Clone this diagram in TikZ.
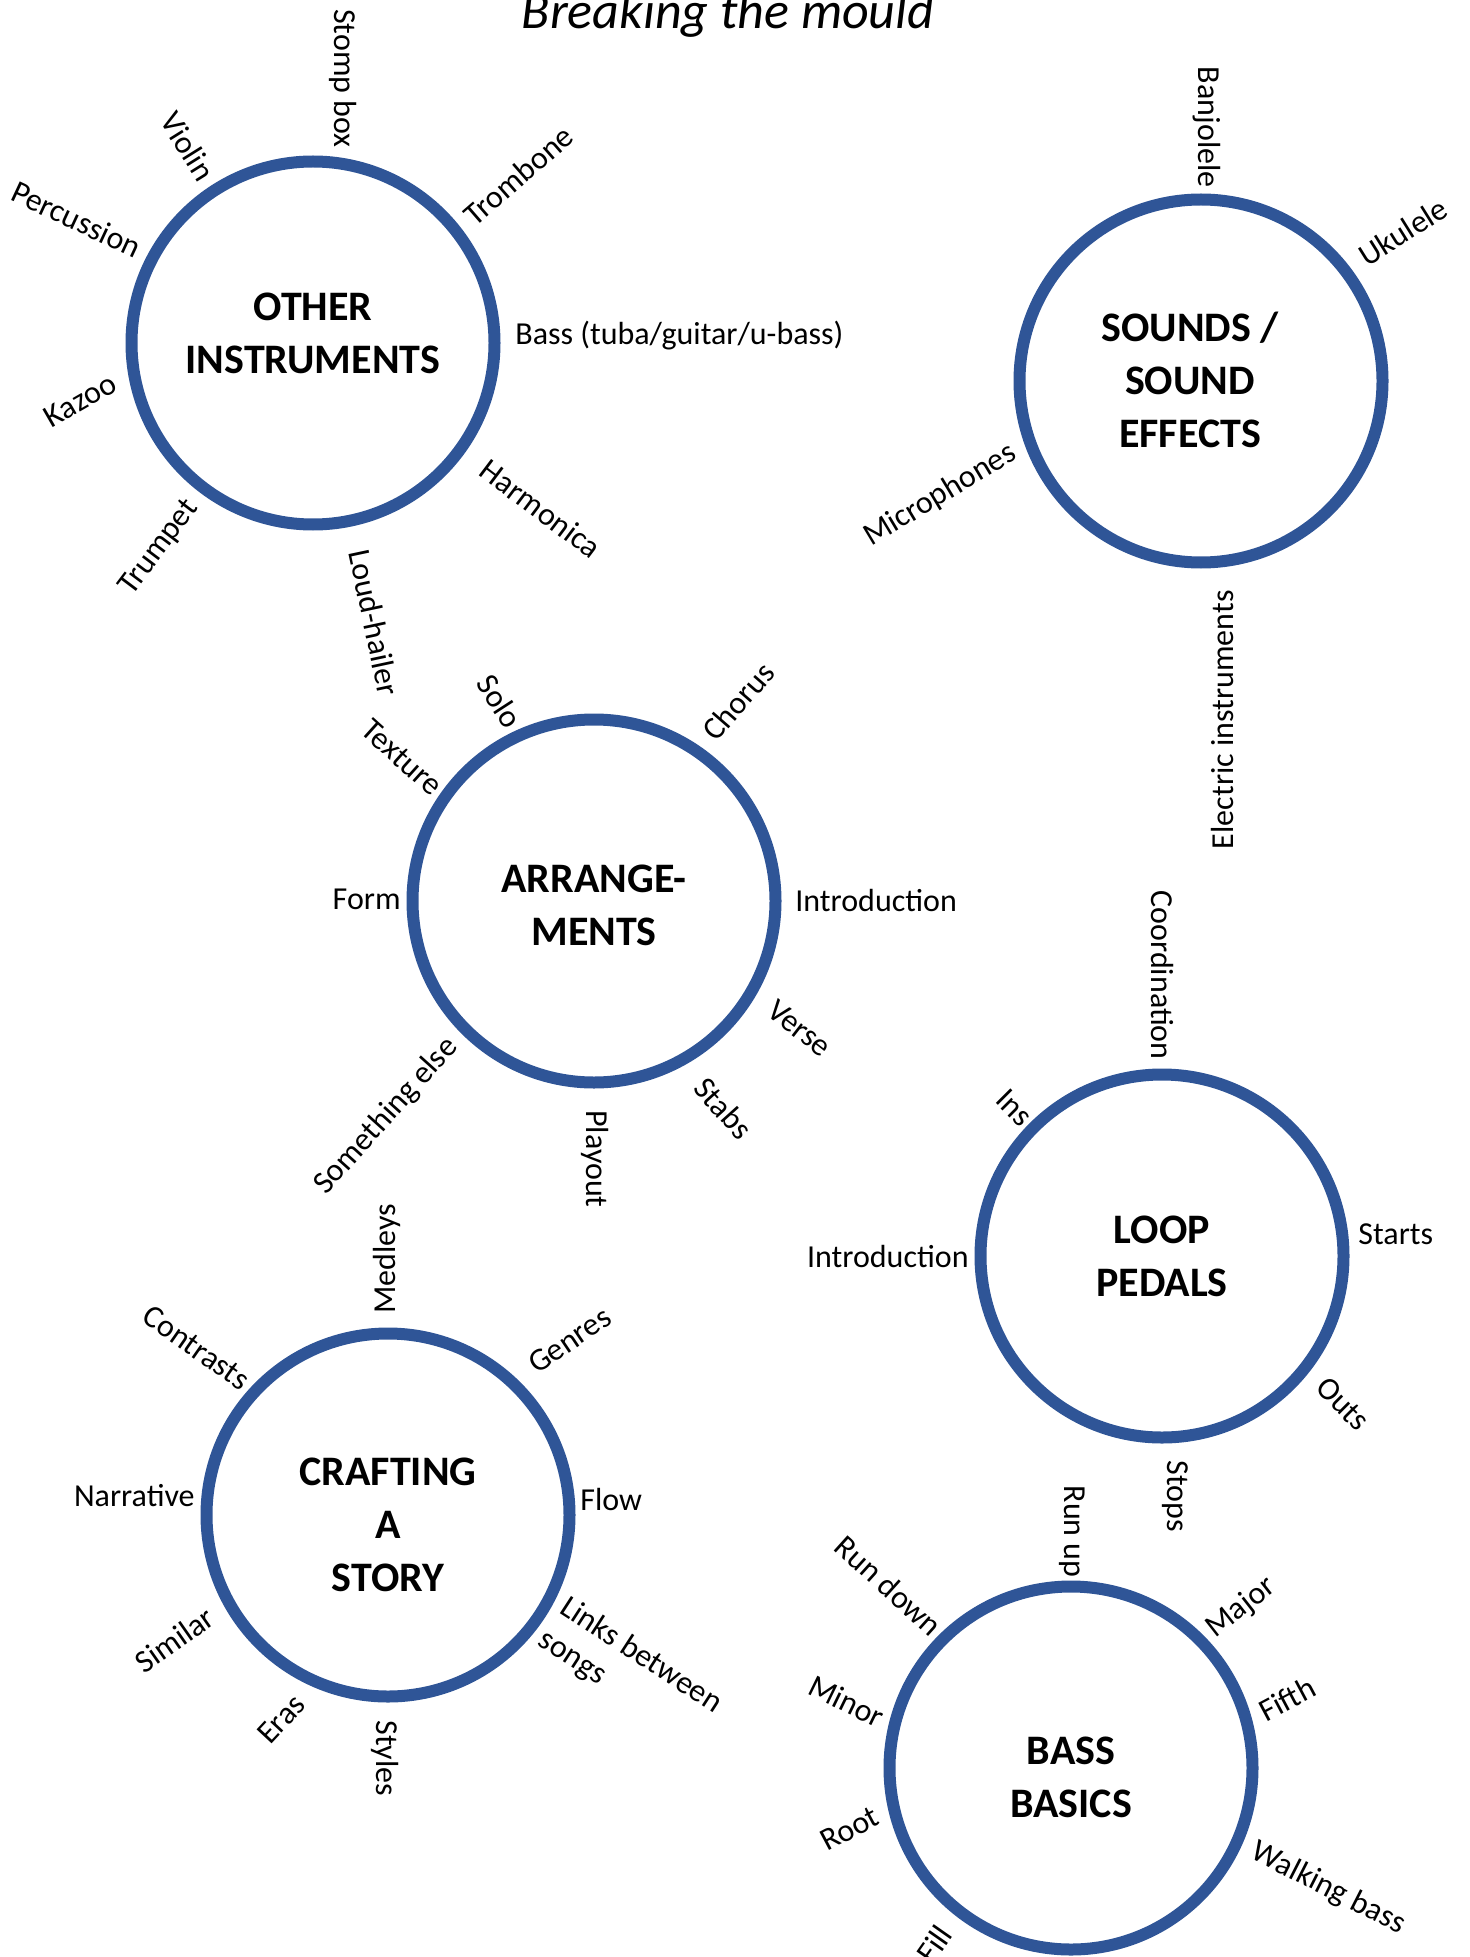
\documentclass[tikz,border=0pt]{standalone}
\usepackage{fontspec}
\setmainfont{Carlito}
\definecolor{ringblue}{RGB}{47,85,151}
\newcommand*{\ringsize}{181.5pt}
\newcommand*{\ringline}{6pt}
\newcommand*{\lblfont}{\fontsize{16}{19.5}\selectfont}
\newcommand*{\ringfont}{\fontsize{21}{26.5}\selectfont\bfseries}

\begin{document}
\begin{tikzpicture}[x=0.5pt, y=-0.5pt,
    ring/.style={circle, draw=ringblue, line width=\ringline, minimum size=\ringsize, inner sep=0pt},
    topic/.style={inner sep=0pt, align=center, font=\ringfont},
    lbl/.style={inner sep=0pt, font=\lblfont},
    lft/.style={lbl, anchor=east, rotate=#1},
    rgt/.style={lbl, anchor=west, rotate=#1}]
    \useasboundingbox (0,0) rectangle (1469,1957);
    \node [anchor=base, font=\fontsize{26}{30}\selectfont\itshape] (title) at (728,29) {Breaking the mould};
    % other instruments
    \node [ring] (other) at (313,343) {};
    \node [topic] (othertxt) at (313,333) {OTHER\\INSTRUMENTS};
    \node [lft=-90] (stomp)      at (343,148) {Stomp box};
    \node [lft=-58] (violin)     at (208,178) {Violin};
    \node [lft=-25] (percussion) at (140,249) {Percussion};
    \node [lft=30]  (kazoo)      at (114,381) {Kazoo};
    \node [lft=53]  (trumpet)    at (193,503) {Trumpet};
    \node [rgt=-78] (loudhailer) at (359,550) {Loud-hailer};
    \node [rgt=-37] (harmonica)  at (484,466) {Harmonica};
    \node [rgt=0]   (bass)       at (515,336) {Bass (tuba/guitar/u-bass)};
    \node [rgt=41]  (trombone)   at (468,219) {Trombone};
    % sounds
    \node [ring] (sounds) at (1201,381) {};
    \node [topic] (soundstxt) at (1190,380) {SOUNDS /\\SOUND\\EFFECTS};
    \node [lft=-90] (banjolele)   at (1207,188) {Banjolele};
    \node [rgt=32]  (ukulele)     at (1361,258) {Ukulele};
    \node [lft=31]  (microphones) at (1014,451) {Microphones};
    \node [lft=90]  (electric)    at (1222,590) {Electric instruments};
    % arrangements
    \node [ring] (arrange) at (594,901) {};
    \node [topic] (arrangetxt) at (594,905) {ARRANGE-\\MENTS};
    \node [lft=0]   (form)      at (401,899)  {Form};
    \node [lft=-42] (texture)   at (438,790)  {Texture};
    \node [lft=-57] (solo)      at (515,725)  {Solo};
    \node [rgt=49]  (chorus)    at (708,736)  {Chorus};
    \node [rgt=0]   (intro)     at (795,901)  {Introduction};
    \node [rgt=-38] (verse)     at (771,1006) {Verse};
    \node [rgt=-48] (stabs)     at (700,1082) {Stabs};
    \node [rgt=-90] (playout)   at (595,1110) {Playout};
    \node [lft=48]  (something) at (453,1042) {Something else};
    % loop pedals
    \node [ring] (loop) at (1162,1256) {};
    \node [topic] (looptxt) at (1162,1256) {LOOP\\PEDALS};
    \node [lft=-90] (coordination) at (1162,1060) {Coordination};
    \node [lft=-45] (ins)          at (1028,1121) {Ins};
    \node [lft=0]   (loopintro)    at (969,1256)  {Introduction};
    \node [rgt=0]   (starts)       at (1358,1234) {Starts};
    \node [rgt=-45] (outs)         at (1321,1382) {Outs};
    \node [rgt=-90] (stops)        at (1175,1460) {Stops};
    % crafting a story
    \node [ring] (story) at (388,1515) {};
    \node [topic] (storytxt) at (388,1525) {CRAFTING\\A\\STORY};
    \node [rgt=90]  (medleys)   at (387,1314) {Medleys};
    \node [lft=-35] (contrasts) at (247,1383) {Contrasts};
    \node [rgt=34]  (genres)    at (531,1366) {Genres};
    \node [lft=0]   (narrative) at (195,1496) {Narrative};
    \node [rgt=0]   (flow)      at (580,1499) {Flow};
    \node [lbl, anchor=north west, rotate=-33, align=left] (links) at (570,1593) {Links between\\songs};
    \node [lft=35]  (similar)   at (211,1614) {Similar};
    \node [lft=47]  (eras)      at (300,1699) {Eras};
    \node [rgt=-90] (styles)    at (385,1720) {Styles};
    % bass basics
    \node [ring] (basics) at (1071,1768) {};
    \node [topic] (basicstxt) at (1071,1777) {BASS\\BASICS};
    \node [lft=-90] (runup)   at (1072,1578) {Run up};
    \node [lft=-42] (rundown) at (938,1630)  {Run down};
    \node [rgt=38]  (major)   at (1210,1632) {Major};
    \node [lft=-26] (minor)   at (883,1719)  {Minor};
    \node [rgt=28]  (fifth)   at (1261,1713) {Fifth};
    \node [lft=28]  (root)    at (877,1814)  {Root};
    \node [rgt=-27] (walking) at (1253,1850) {Walking bass};
    \node [lft=55]  (fill)    at (945,1929)  {Fill};
\end{tikzpicture}
\end{document}
